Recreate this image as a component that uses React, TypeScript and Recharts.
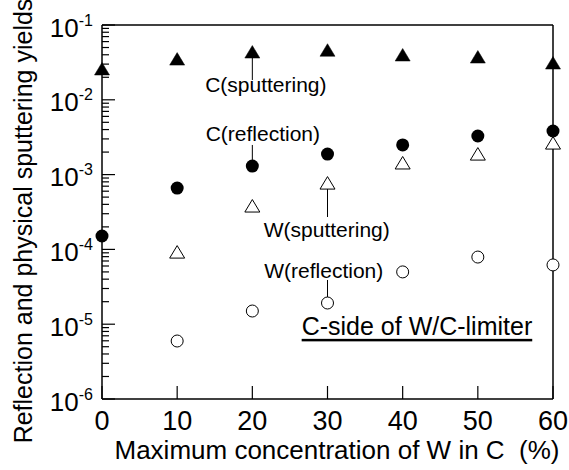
import React from 'react';
import { ScatterChart, Scatter, XAxis, YAxis, ReferenceLine, ReferenceDot, Customized } from 'recharts';

// ---- data ----
const concentration = [0, 10, 20, 30, 40, 50, 60];
const cSputtering = [0.0258, 0.035, 0.0435, 0.046, 0.0397, 0.0373, 0.031];
const cReflection = [1.51e-4, 6.6e-4, 1.3e-3, 1.88e-3, 2.49e-3, 3.28e-3, 3.83e-3];
const wConcentration = [10, 20, 30, 40, 50, 60];
const wSputtering = [9.2e-5, 3.8e-4, 7.7e-4, 1.43e-3, 1.88e-3, 2.64e-3];
const wReflection = [5.96e-6, 1.5e-5, 1.92e-5, 5.0e-5, 7.9e-5, 6.2e-5];

const xTicks = [0, 10, 20, 30, 40, 50, 60];
const yDecades = [1e-6, 1e-5, 1e-4, 1e-3, 1e-2, 1e-1];
const yExponents = ['-6', '-5', '-4', '-3', '-2', '-1'];
const minorMultipliers = [2, 3, 4, 5, 6, 7, 8, 9];

const annotationTexts = ['C(sputtering)', 'C(reflection)', 'W(sputtering)', 'W(reflection)'];
const annotationX = [21.8, 21.4, 29.9, 29.5];
const annotationY = [0.0158, 3.49e-3, 1.87e-4, 5.3e-5];
const pointerX = [20, 20, 30, 30];
const pointerFrom = [0.040, 1.57e-3, 6.4e-4, 3.9e-5];
const pointerTo = [0.0184, 2.49e-3, 2.71e-4, 2.31e-5];

const titleText = 'C-side of W/C-limiter';
const titleX = 41.9;
const titleY = 9.5e-6;

const xLabel = 'Maximum concentration of W in C\u00a0 (%)';
const yLabel = 'Reflection and physical sputtering yields';

// ---- derived ----
const yAllTicks: number[] = [];
yDecades.forEach((d, i) => {
  yAllTicks.push(d);
  if (i < yDecades.length - 1) minorMultipliers.forEach((m) => yAllTicks.push(d * m));
});
const isMajor = (v: number) => yDecades.some((d) => Math.abs(v / d - 1) < 1e-6);
const expOf = (v: number) => {
  const idx = yDecades.findIndex((d) => Math.abs(v / d - 1) < 1e-6);
  return idx >= 0 ? yExponents[idx] : '';
};

const cSputData = concentration.map((x, i) => ({ x, y: cSputtering[i] }));
const cReflData = concentration.map((x, i) => ({ x, y: cReflection[i] }));
const wSputData = wConcentration.map((x, i) => ({ x, y: wSputtering[i] }));
const wReflData = wConcentration.map((x, i) => ({ x, y: wReflection[i] }));

const FONT = '"Liberation Sans", Arial, Helvetica, sans-serif';
const W = 569;
const H = 470;

// ---- shapes ----
const FilledTriangle = (p: any) => (
  <polygon
    points={`${p.cx},${p.cy - 6.5} ${p.cx - 7.5},${p.cy + 6} ${p.cx + 7.5},${p.cy + 6}`}
    fill="#000"
    stroke="#000"
    strokeWidth={0.5}
  />
);
const OpenTriangle = (p: any) => (
  <polygon
    points={`${p.cx},${p.cy - 6.5} ${p.cx - 7.5},${p.cy + 6} ${p.cx + 7.5},${p.cy + 6}`}
    fill="#fff"
    stroke="#000"
    strokeWidth={1}
  />
);
const FilledCircle = (p: any) => <circle cx={p.cx} cy={p.cy} r={6.5} fill="#000" />;
const OpenCircle = (p: any) => <circle cx={p.cx} cy={p.cy} r={6} fill="#fff" stroke="#000" strokeWidth={1} />;

// ---- ticks ----
const LeftTick = (props: any) => {
  const { x, y, payload } = props;
  const v = payload.value;
  const major = isMajor(v);
  return (
    <g>
      <line x1={x} x2={x + (major ? 13 : 7)} y1={y} y2={y} stroke="#000" strokeWidth={1.2} />
      {major && (
        <text x={x - 9} y={y + 11.5} textAnchor="end" fontFamily={FONT} fontSize={26} fill="#000">
          <tspan>10</tspan>
          <tspan dy={-11} fontSize={16}>{expOf(v)}</tspan>
        </text>
      )}
    </g>
  );
};
const RightTick = (props: any) => {
  const { x, y, payload } = props;
  const major = isMajor(payload.value);
  return <line x1={x} x2={x - (major ? 13 : 7)} y1={y} y2={y} stroke="#000" strokeWidth={1.2} />;
};
const BottomTick = (props: any) => {
  const { x, y, payload } = props;
  return (
    <g>
      <line x1={x} x2={x} y1={y} y2={y - 13} stroke="#000" strokeWidth={1.2} />
      <text x={x} y={y + 31} textAnchor="middle" fontFamily={FONT} fontSize={27} fill="#000">
        {payload.value}
      </text>
    </g>
  );
};
const TopTick = (props: any) => {
  const { x, y } = props;
  return <line x1={x} x2={x} y1={y} y2={y + 14} stroke="#000" strokeWidth={1.2} />;
};

const Titles = () => (
  <g>
    <text x={337} y={459} textAnchor="middle" fontFamily={FONT} fontSize={26} fill="#000">
      {xLabel}
    </text>
    <text
      x={32}
      y={221}
      textAnchor="middle"
      fontFamily={FONT}
      fontSize={25}
      fill="#000"
      transform="rotate(-90 32 221)"
    >
      {yLabel}
    </text>
  </g>
);

export default function App() {
  return (
    <div style={{ position: 'absolute', left: 0, top: 0, background: '#fff' }}>
      <ScatterChart width={W} height={H} margin={{ top: 0, right: 0, bottom: 0, left: 0 }}>
        <XAxis
          xAxisId="bottom"
          type="number"
          dataKey="x"
          domain={[0, 60]}
          ticks={xTicks}
          interval={0}
          orientation="bottom"
          height={71}
          tickSize={0}
          tickMargin={0}
          tickLine={false}
          axisLine={{ stroke: '#000', strokeWidth: 1.5 }}
          tick={<BottomTick />}
        />
        <XAxis
          xAxisId="top"
          type="number"
          dataKey="x"
          domain={[0, 60]}
          ticks={xTicks}
          interval={0}
          orientation="top"
          height={25}
          tickSize={0}
          tickMargin={0}
          tickLine={false}
          axisLine={{ stroke: '#000', strokeWidth: 1.5 }}
          tick={<TopTick />}
        />
        <YAxis
          yAxisId="left"
          type="number"
          dataKey="y"
          scale="log"
          domain={[1e-6, 1e-1]}
          ticks={yAllTicks}
          interval={0}
          orientation="left"
          width={102}
          tickSize={0}
          tickMargin={0}
          tickLine={false}
          axisLine={{ stroke: '#000', strokeWidth: 1.5 }}
          tick={<LeftTick />}
        />
        <YAxis
          yAxisId="right"
          type="number"
          dataKey="y"
          scale="log"
          domain={[1e-6, 1e-1]}
          ticks={yAllTicks}
          interval={0}
          orientation="right"
          width={16}
          tickSize={0}
          tickMargin={0}
          tickLine={false}
          axisLine={{ stroke: '#000', strokeWidth: 1.5 }}
          tick={<RightTick />}
        />

        {pointerX.map((px, i) => (
          <ReferenceLine
            key={`pl${i}`}
            xAxisId="bottom"
            yAxisId="left"
            segment={[
              { x: px, y: pointerFrom[i] },
              { x: px, y: pointerTo[i] },
            ]}
            stroke="#000"
            strokeWidth={1}
          />
        ))}

        <Scatter xAxisId="bottom" yAxisId="left" data={cSputData} shape={FilledTriangle} isAnimationActive={false} />
        <Scatter xAxisId="bottom" yAxisId="left" data={cReflData} shape={FilledCircle} isAnimationActive={false} />
        <Scatter xAxisId="bottom" yAxisId="left" data={wSputData} shape={OpenTriangle} isAnimationActive={false} />
        <Scatter xAxisId="bottom" yAxisId="left" data={wReflData} shape={OpenCircle} isAnimationActive={false} />

        {annotationTexts.map((t, i) => (
          <ReferenceDot
            key={`an${i}`}
            xAxisId="bottom"
            yAxisId="left"
            x={annotationX[i]}
            y={annotationY[i]}
            r={0}
            shape={(p: any) => (
              <text
                x={p.cx}
                y={p.cy}
                textAnchor="middle"
                dominantBaseline="central"
                fontFamily={FONT}
                fontSize={21}
                fill="#000"
              >
                {t}
              </text>
            )}
          />
        ))}
        <ReferenceDot
          xAxisId="bottom"
          yAxisId="left"
          x={titleX}
          y={titleY}
          r={0}
          shape={(p: any) => (
            <text
              x={p.cx}
              y={p.cy}
              textAnchor="middle"
              dominantBaseline="central"
              fontFamily={FONT}
              fontSize={25}
              fill="#000"
              textDecoration="underline"
            >
              {titleText}
            </text>
          )}
        />
        <Customized component={Titles} />
      </ScatterChart>
    </div>
  );
}
